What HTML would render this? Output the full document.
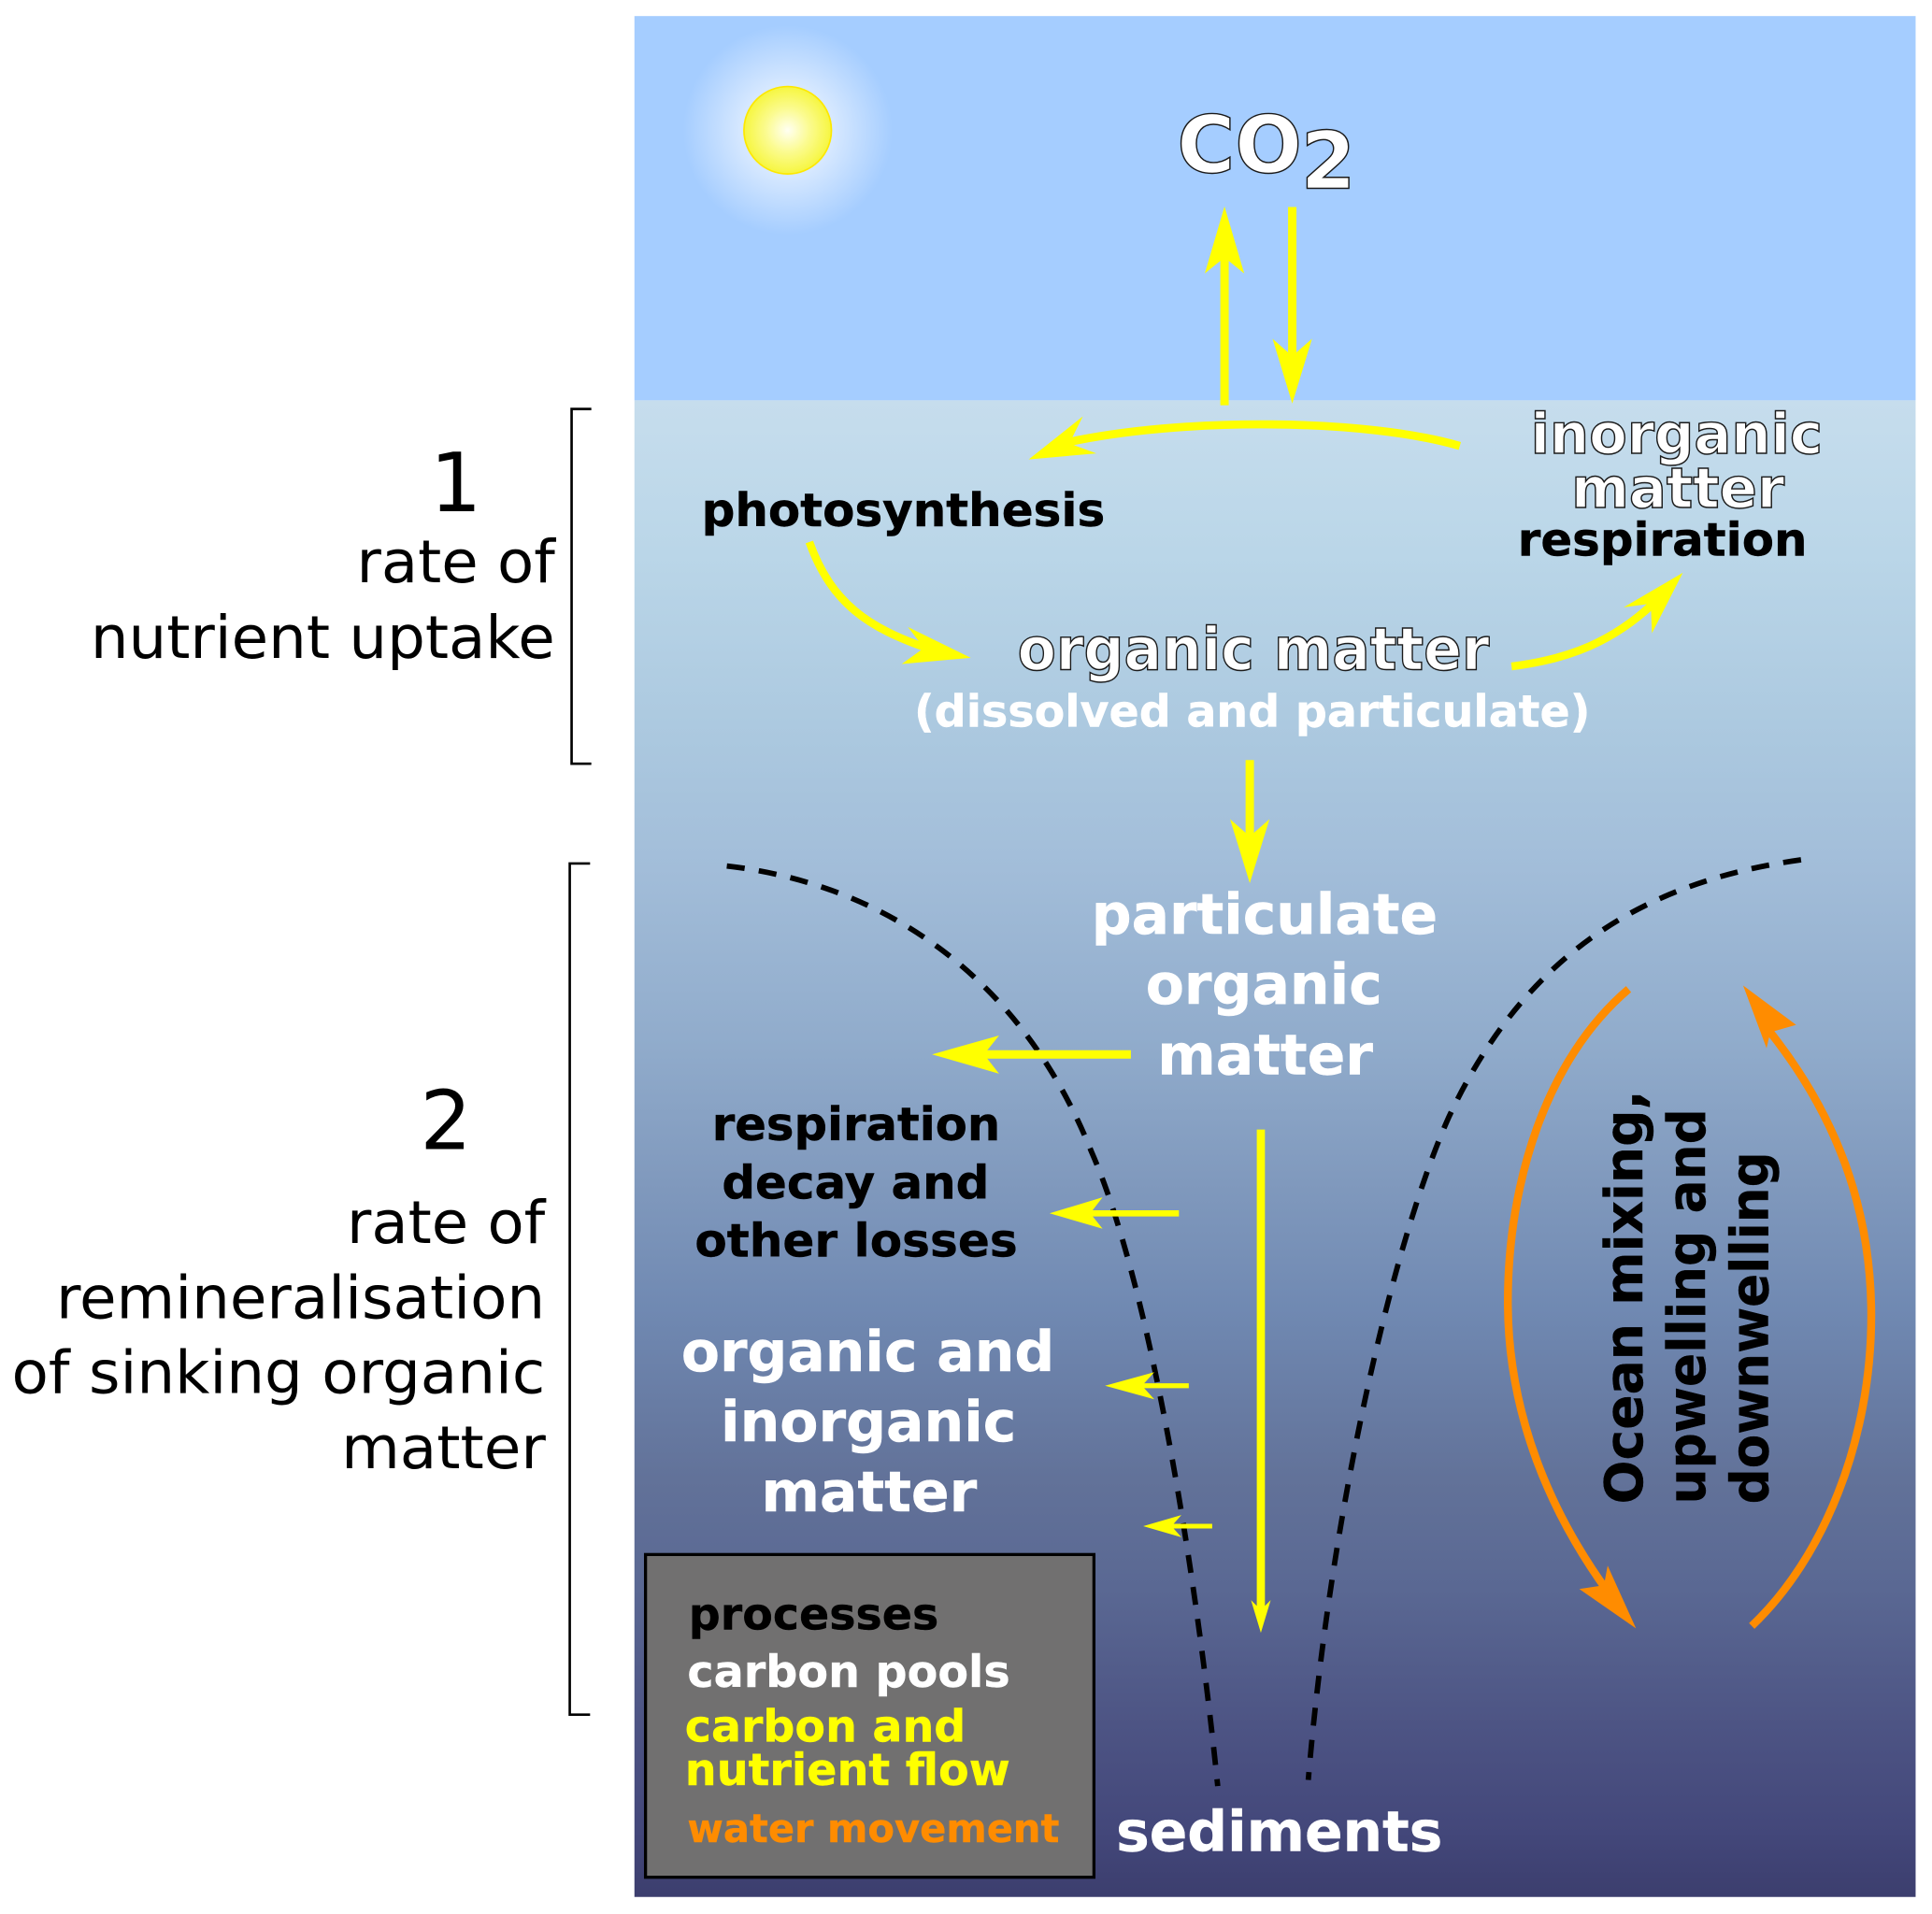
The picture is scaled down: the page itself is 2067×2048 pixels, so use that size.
<!DOCTYPE html>
<html><head><meta charset="utf-8"><style>
html,body{margin:0;padding:0;background:#fff}
svg{display:block}
text{font-family:"DejaVu Sans","Liberation Sans",sans-serif}
.b{font-weight:bold}
.o{font-weight:bold;fill:#fff;stroke:#1a1a1a;stroke-width:1.1px}
</style></head><body>
<svg xmlns="http://www.w3.org/2000/svg" width="2067" height="2048" viewBox="0 0 1568.3 1553.8">
<defs>
<linearGradient id="w" gradientUnits="userSpaceOnUse" x1="0" y1="325" x2="0" y2="1540">
<stop offset="0" stop-color="#c6dded"/><stop offset=".103" stop-color="#bad6e8"/><stop offset=".226" stop-color="#abc8df"/><stop offset=".313" stop-color="#a2bdd9"/><stop offset=".432" stop-color="#90abcb"/><stop offset=".523" stop-color="#8099bd"/><stop offset=".607" stop-color="#7089b2"/><stop offset=".72" stop-color="#627299"/><stop offset=".794" stop-color="#5a6893"/><stop offset=".885" stop-color="#4d5484"/><stop offset=".957" stop-color="#43477a"/><stop offset="1" stop-color="#3c3e6e"/>
</linearGradient>
<radialGradient id="h"><stop offset="0" stop-color="#eaf3ff"/><stop offset=".42" stop-color="#d8e9ff"/><stop offset="1" stop-color="#a5cdff"/></radialGradient>
<radialGradient id="s"><stop offset="0" stop-color="#fffff2"/><stop offset=".5" stop-color="#fbfb90"/><stop offset="1" stop-color="#f6f640"/></radialGradient>
</defs>
<rect width="1568.3" height="1553.8" fill="#fff"/>
<rect x="515" y="13" width="1040" height="312" fill="#a5cdff"/>
<rect x="515" y="325" width="1040" height="1215" fill="url(#w)"/>
<circle cx="639.4" cy="105.7" r="85" fill="url(#h)"/>
<circle cx="639.4" cy="105.7" r="35.5" fill="url(#s)" stroke="#fde800" stroke-width="1.3"/>

<!-- brackets -->
<path d="M480 332H464V620H480M479 701H462.5V1392H479" fill="none" stroke="#000" stroke-width="2"/>

<!-- left labels -->
<g font-size="48" fill="#000">
<text x="349" y="415" font-size="66">1</text>
<text x="341" y="933" font-size="66">2</text>
<text x="289.5" y="472.7" textLength="161" lengthAdjust="spacingAndGlyphs">rate of</text>
<text x="73.5" y="534" textLength="377" lengthAdjust="spacingAndGlyphs">nutrient uptake</text>
<text x="281.5" y="1009" textLength="161" lengthAdjust="spacingAndGlyphs">rate of</text>
<text x="45.5" y="1070" textLength="397" lengthAdjust="spacingAndGlyphs">remineralisation</text>
<text x="9.5" y="1131" textLength="433" lengthAdjust="spacingAndGlyphs">of sinking organic</text>
<text x="277" y="1192" textLength="166" lengthAdjust="spacingAndGlyphs">matter</text>
</g>

<!-- dashed curves -->
<g fill="none" stroke="#000" stroke-width="4.4" stroke-dasharray="14.6 11.6">
<path d="M590 703C720 718 830 795 886 935C930 1035 968 1250 988.5 1450"/>
<path d="M1462 698C1340 715 1240 770 1176 907C1130 1010 1080 1230 1062 1445"/>
</g>

<!-- yellow connectors -->
<g fill="none" stroke="#ff0" stroke-width="6.8">
<path d="M994 329V205"/><path d="M1049 168V296"/>
<path d="M1185 362C1110 340 960 338 862 360" stroke-width="6.6"/>
<path d="M657 440C675 490 705 510 755 527" stroke-width="6.4"/>
<path d="M1227 541C1275 535 1310 520 1342 490" stroke-width="6.4"/>
<path d="M1014.5 617V690"/>
<path d="M918 856H790"/>
<path d="M957 985H880" stroke-width="5"/>
<path d="M965 1125H920" stroke-width="4"/>
<path d="M984 1239H945" stroke-width="3.8"/>
<path d="M1023.5 917V1308" stroke-width="6.6"/>
</g>
<g fill="#ff0">
<path d="M994 167.5L1010 222L994 209L978 222Z"/>
<path d="M1049 327.5L1033 275L1049 289L1065 275Z"/>
<path d="M835 373L879 338L868 360L890 368Z"/>
<path d="M788 534L737 509L750 526L732 539Z"/>
<path d="M1366 465L1318 493L1340 490L1341 514Z"/>
<path d="M1014.5 717L998.5 665L1014.5 679L1030.5 665Z"/>
<path d="M756.6 856L811 840.6L798.7 856L811 871.6Z"/>
<path d="M852 985L895 972L885 985L895 997.5Z"/>
<path d="M897 1125L937 1114L927 1125L937 1136Z"/>
<path d="M928 1239L959 1230L951 1239L959 1248Z"/>
<path d="M1023.5 1325.6L1015.5 1299L1023.5 1307L1031.5 1299Z"/>
</g>

<!-- orange connectors -->
<g fill="none" stroke="#ff8c00" stroke-width="6.4">
<path d="M1322 803C1255 860 1224 960 1224 1057C1224 1150 1260 1230 1305 1292"/>
<path d="M1422 1320C1480 1265 1519 1170 1519 1068C1519 980 1490 905 1437 838"/>
</g>
<g fill="#ff8c00">
<path d="M1328 1322L1305 1271L1302 1287L1282 1290Z"/>
<path d="M1415 800L1458 832L1437 838L1434 851Z"/>
</g>

<!-- labels -->
<text class="o" x="955.5" y="140" font-size="64">CO</text>
<text class="o" x="1056" y="153" font-size="64">2</text>
<text class="o" x="1242.5" y="368" font-size="45" textLength="237" lengthAdjust="spacingAndGlyphs">inorganic</text>
<text class="o" x="1275.5" y="412" font-size="45" textLength="173" lengthAdjust="spacingAndGlyphs">matter</text>
<text class="o" x="826" y="543.5" font-size="48" textLength="383" lengthAdjust="spacingAndGlyphs">organic matter</text>
<g class="b" fill="#000" stroke="#000" stroke-width=".35" font-size="37.5">
<text x="569.5" y="427" textLength="327.5" lengthAdjust="spacingAndGlyphs">photosynthesis</text>
<text x="1232" y="451" textLength="235" lengthAdjust="spacingAndGlyphs">respiration</text>
<text x="578" y="925.5" textLength="234" lengthAdjust="spacingAndGlyphs">respiration</text>
<text x="586" y="973" textLength="217" lengthAdjust="spacingAndGlyphs">decay and</text>
<text x="564" y="1020" textLength="262" lengthAdjust="spacingAndGlyphs">other losses</text>
</g>
<text class="b" x="742" y="590" font-size="36" fill="#fff" stroke="#fff" stroke-width=".3" textLength="549" lengthAdjust="spacingAndGlyphs">(dissolved and particulate)</text>
<g class="b" fill="#fff" stroke="#fff" stroke-width=".35" font-size="45">
<text x="886" y="758" textLength="281" lengthAdjust="spacingAndGlyphs">particulate</text>
<text x="930" y="815" textLength="192" lengthAdjust="spacingAndGlyphs">organic</text>
<text x="939.5" y="872" textLength="175" lengthAdjust="spacingAndGlyphs">matter</text>
<text x="553" y="1113" textLength="303" lengthAdjust="spacingAndGlyphs">organic and</text>
<text x="585" y="1170" textLength="240" lengthAdjust="spacingAndGlyphs">inorganic</text>
<text x="618" y="1227" textLength="175" lengthAdjust="spacingAndGlyphs">matter</text>
<text x="906" y="1502.5" textLength="265" lengthAdjust="spacingAndGlyphs">sediments</text>
</g>

<!-- rotated label -->
<g class="b" fill="#000" stroke="#000" stroke-width=".3" font-size="42.5">
<text transform="translate(1333 1221) rotate(-90)" textLength="336" lengthAdjust="spacingAndGlyphs">Ocean mixing,</text>
<text transform="translate(1384 1221) rotate(-90)" textLength="321" lengthAdjust="spacingAndGlyphs">upwelling and</text>
<text transform="translate(1435 1221) rotate(-90)" textLength="286" lengthAdjust="spacingAndGlyphs">downwelling</text>
</g>

<!-- legend -->
<rect x="524" y="1262" width="364" height="262" fill="#717070" stroke="#000" stroke-width="2.5"/>
<g class="b" font-size="36" stroke-width=".3">
<text x="559" y="1323" fill="#000" stroke="#000" textLength="203" lengthAdjust="spacingAndGlyphs">processes</text>
<text x="558" y="1369.5" fill="#fff" stroke="#fff" textLength="262" lengthAdjust="spacingAndGlyphs">carbon pools</text>
<text x="556" y="1414" fill="#ff0" stroke="#ff0" textLength="228" lengthAdjust="spacingAndGlyphs">carbon and</text>
<text x="556" y="1449" fill="#ff0" stroke="#ff0" textLength="264" lengthAdjust="spacingAndGlyphs">nutrient flow</text>
<text x="558" y="1495.5" fill="#ff8c00" stroke="#ff8c00" font-size="32" textLength="302" lengthAdjust="spacingAndGlyphs">water movement</text>
</g>
</svg>
</body></html>
